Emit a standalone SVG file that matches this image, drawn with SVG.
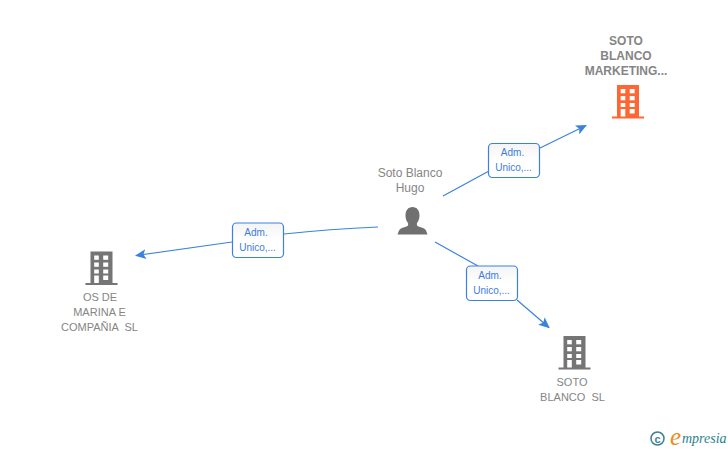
<svg xmlns="http://www.w3.org/2000/svg" width="728" height="450" viewBox="0 0 728 450">
<style>
text{white-space:pre}
.n{font:11px "Liberation Sans",Arial,sans-serif;fill:#858585;text-anchor:middle}
.b{font-weight:bold;font-size:12px}
.p{font-size:12px}
.l{font:10px "Liberation Sans",Arial,sans-serif;fill:#3b7ddd;text-anchor:middle}
.c{fill:none;stroke:#3b82e0;stroke-width:1.200}
.box{fill:url(#g);stroke:#3b82e0;stroke-width:1.200}
.w{fill:#fff}
</style>
<defs>
<linearGradient id="g" x1="0" y1="0" x2="0" y2="1"><stop offset="0" stop-color="#f4f4f4"/><stop offset=".5" stop-color="#fff"/></linearGradient>
<marker id="a" markerWidth="12" markerHeight="10" refX="10" refY="5" orient="auto" markerUnits="userSpaceOnUse"><path d="M0 0L11 5L0 10L2.500 5Z" fill="#3b82e0"/></marker>
<symbol id="bld" viewBox="0 0 32 34" width="32" height="34" overflow="visible">
<path d="M5 0H27V31.500H32V33.500H0V31.500H5Z" fill="currentColor"/>
<g class="w"><rect x="8.700" y="4" width="4.600" height="4.300"/><rect x="17.700" y="4" width="5" height="4.300"/><rect x="8.700" y="11" width="4.600" height="4.300"/><rect x="17.700" y="11" width="5" height="4.300"/><rect x="8.700" y="18" width="4.600" height="4"/><rect x="17.700" y="18" width="5" height="4"/><rect x="8.700" y="24" width="4.600" height="7.500"/><rect x="17.700" y="24" width="5" height="4.500"/></g>
</symbol>
</defs>
<rect width="728" height="450" fill="#fff"/>
<g id="connectors">
<path class="c" d="M443 196L489 171"/>
<path class="c" d="M540 148L586 125.500" marker-end="url(#a)"/>
<path class="c" d="M378 227Q330 229 284 234"/>
<path class="c" d="M232 242L136 255.500" marker-end="url(#a)"/>
<path class="c" d="M435 242L478 266"/>
<path class="c" d="M517 300L549 327.500" marker-end="url(#a)"/>
</g>
<g id="edge-labels">
<g id="label-top"><rect class="box" x="488.500" y="143.500" width="51" height="34" rx="4"/><text class="l" x="512.500" y="156">Adm.</text><text class="l" x="513.500" y="171">Unico,...</text></g>
<g id="label-left"><rect class="box" x="232.500" y="223" width="51" height="34.500" rx="4"/><text class="l" x="256" y="236">Adm.</text><text class="l" x="257.500" y="251">Unico,...</text></g>
<g id="label-bottom"><rect class="box" x="466.500" y="266" width="51" height="34.500" rx="4"/><text class="l" x="490" y="279">Adm.</text><text class="l" x="491.500" y="294">Unico,...</text></g>
</g>
<g id="node-marketing">
<text class="n b" x="626" y="45">SOTO</text><text class="n b" x="626" y="60">BLANCO</text><text class="n b" x="626" y="75">MARKETING...</text>
<use href="#bld" x="612" y="85" color="#ff6633"/>
</g>
<g id="node-person">
<text class="n p" x="410" y="177">Soto Blanco</text><text class="n p" x="410" y="192">Hugo</text>
<path d="M412.500 207c-4.500 0-7 3.500-7 8.500 0 3 1 5.500 2.500 7.500.5 1.500 0 3-1.500 3.500-3 1-6.500 1.800-7.500 4l-1.500 4h30l-1.500-4c-1-2.200-4.500-3-7.500-4-1.500-.5-2-2-1.500-3.500 1.500-2 2.500-4.500 2.500-7.500 0-5-2.500-8.500-7-8.500Z" fill="#707070"/>
</g>
<g id="node-marina">
<text class="n" x="100" y="301">OS DE</text><text class="n" x="99.500" y="316">MARINA E</text><text class="n" x="99.500" y="331">COMPAÑIA  SL</text>
<use href="#bld" x="85.500" y="251.500" color="#757575"/>
</g>
<g id="node-blanco">
<text class="n" x="572" y="386">SOTO</text><text class="n" x="572.500" y="401">BLANCO  SL</text>
<use href="#bld" x="558.500" y="336" color="#757575"/>
</g>
<g id="logo">
<circle cx="657.500" cy="438.500" r="6.500" fill="none" stroke="#3d7f94" stroke-width="1.500"/>
<text x="657.500" y="442.500" font-family="Liberation Sans,sans-serif" font-size="11" font-weight="bold" fill="#3d7f94" text-anchor="middle">c</text>
<text x="670" y="445" font-family="Liberation Serif,serif" font-style="italic" font-size="25" fill="#f08a1d">e</text>
<text x="682" y="443" font-family="Liberation Serif,serif" font-style="italic" font-size="14" fill="#2b7f8f">mpresia</text>
</g>
</svg>
